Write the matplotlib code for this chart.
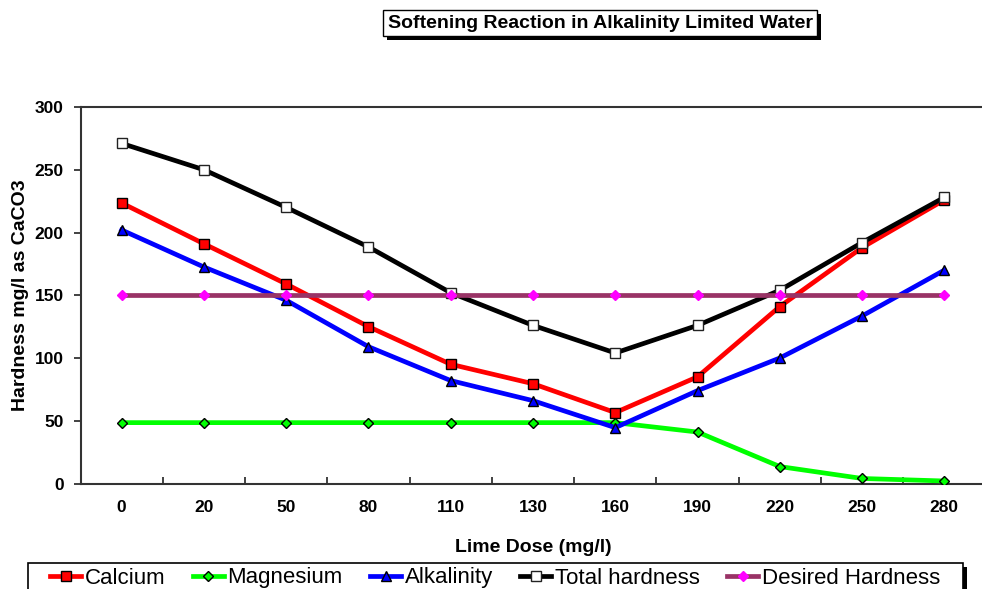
import matplotlib
matplotlib.use("Agg")
import matplotlib.pyplot as plt
from matplotlib.patches import Rectangle
from matplotlib.ticker import FixedLocator, NullFormatter

dose_labels = ["0", "20", "50", "80", "110", "130", "160", "190", "220", "250", "280"]
calcium = [223.5, 191, 159, 125, 95, 79.5, 56.5, 85, 141, 188, 226]
magnesium = [48.5, 48.5, 48.5, 48.5, 48.5, 48.5, 48.5, 41, 13.5, 4, 2]
alkalinity = [202, 172.5, 146, 109, 82, 66, 44.5, 74, 100, 133.5, 170]
total_hardness = [271, 250, 220, 188.5, 152, 126, 104, 126, 154, 192, 228]
desired_hardness = [150] * 11

title = "Softening Reaction in Alkalinity Limited Water"
xlabel = "Lime Dose (mg/l)"
ylabel = "Hardness mg/l as CaCO3"

W, H = 982, 589
fig = plt.figure(figsize=(W / 100, H / 100), dpi=100)
plt.rcParams['font.family'] = ['Liberation Sans', 'DejaVu Sans']

left, right, top, bottom = 80.5, 985.5, 107, 483.5
ax = fig.add_axes([left / W, 1 - bottom / H, (right - left) / W, (bottom - top) / H])

x = list(range(len(dose_labels)))
lw = 3.4
ax.plot(x, calcium, color="#FF0000", lw=lw, marker="s", ms=7, mfc="#FF0000", mec="black", mew=1.0, label="Calcium", zorder=3)
ax.plot(x, magnesium, color="#00FF00", lw=lw, marker="D", ms=5, mfc="#00FF00", mec="black", mew=1.0, label="Magnesium", zorder=3)
ax.plot(x, alkalinity, color="#0000FF", lw=lw, marker="^", ms=7, mfc="#0000FF", mec="black", mew=1.0, label="Alkalinity", zorder=3)
ax.plot(x, total_hardness, color="black", lw=lw, marker="s", ms=6.5, mfc="white", mec="#222222", mew=1.0, label="Total hardness", zorder=3)
ax.plot(x, desired_hardness, color="#993366", lw=lw, marker="D", ms=5, mfc="#FF00FF", mec="#FF00FF", mew=1.0, label="Desired Hardness", zorder=4)

ax.set_xlim(-0.5, len(x) - 0.5)
ax.set_ylim(0, 300)
ax.set_yticks([0, 50, 100, 150, 200, 250, 300])
ax.set_xticks(x)
ax.set_xticklabels(dose_labels)
ax.xaxis.set_minor_locator(FixedLocator([i + 0.5 for i in range(len(x) - 1)]))
ax.xaxis.set_minor_formatter(NullFormatter())
ax.tick_params(axis="x", which="major", length=0, pad=12, labelsize=12.5)
ax.tick_params(axis="x", which="minor", direction="in", length=5, width=1.3, color="#333333")
ax.tick_params(axis="y", direction="out", length=5, width=1.3, color="#333333", pad=7, labelsize=12.5)
for lab in ax.get_xticklabels() + ax.get_yticklabels():
    lab.set_fontweight("bold")

for side in ["left", "bottom", "top"]:
    ax.spines[side].set_color("#333333")
    ax.spines[side].set_linewidth(1.5)
ax.spines["right"].set_visible(False)

ax.set_ylabel(ylabel, fontsize=14, fontweight="bold")
ax.yaxis.set_label_coords((29 - left) / (right - left), 0.5)
ax.set_xlabel(xlabel, fontsize=14, fontweight="bold", labelpad=17)

# Title box
ttl = fig.text(600 / W, 1 - 23 / H, title, ha="center", va="center", fontsize=14,
               fontweight="bold", color="black", zorder=5,
               bbox=dict(boxstyle="square,pad=0.25", fc="white", ec="black", lw=1))

# Legend (frame drawn separately)
leg = fig.legend(loc="center left", bbox_to_anchor=(50 / W, 1 - 578 / H, (940 - 50) / W, 0.0),
                 mode="expand", ncol=5, frameon=False,
                 prop={"size": 16},
                 handlelength=1.4, handletextpad=0.15, columnspacing=1.0, borderpad=0.0,
                 borderaxespad=0)

fig.canvas.draw()
renderer = fig.canvas.get_renderer()
bb = ttl.get_bbox_patch().get_window_extent(renderer)
fig.add_artist(Rectangle((bb.x0 + 4, bb.y0 - 4), bb.width, bb.height, transform=None,
                         fc="black", ec="black", lw=0, zorder=4))

# legend frame: from x=28 to 963, top at y=563 (pixels from top), running off the bottom
lx0, lx1, ltop = 28, 963, 563
fig.add_artist(Rectangle((lx0 + 4, -10), lx1 - lx0, (H - ltop) + 10 - 4, transform=None,
                         fc="black", ec="black", lw=0, zorder=0.5))
fig.add_artist(Rectangle((lx0, -10), lx1 - lx0, (H - ltop) + 10, transform=None,
                         fc="white", ec="black", lw=1.2, zorder=0.6))

fig.savefig("out.png", dpi=100)
